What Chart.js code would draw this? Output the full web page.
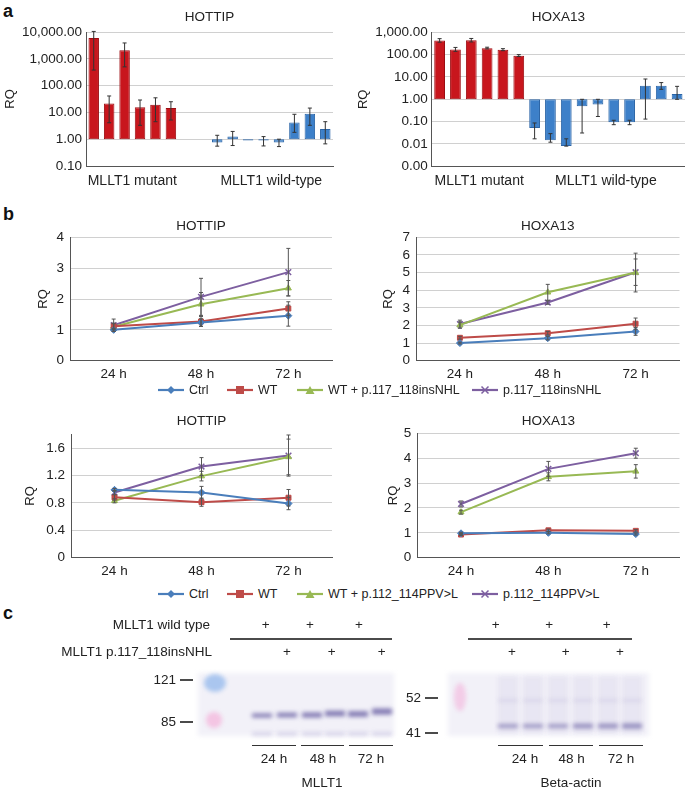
<!DOCTYPE html>
<html>
<head>
<meta charset="utf-8">
<script src="https://cdn.jsdelivr.net/npm/chart.js@4.4.1/dist/chart.umd.min.js"></script>
<style>
  body { margin: 0; background: #fff; width: 685px; height: 790px; position: relative; overflow: hidden;
         font-family: "Liberation Sans", Arial, sans-serif; color: #222; }
  canvas { position: absolute; }
  .tag { position: absolute; font-weight: bold; font-size: 18px; line-height: 18px; color: #111; }
  .leg { position: absolute; font-size: 12.5px; line-height: 14px; white-space: nowrap; }
  .leg svg { position: absolute; top: 0; }
</style>
</head>
<body>
<div class="tag" style="left:3px;top:2px">a</div>
<div class="tag" style="left:3px;top:205px">b</div>
<div class="tag" style="left:3px;top:604px">c</div>

<canvas id="aL" width="340" height="195" style="left:0;top:0"></canvas>
<canvas id="aR" width="345" height="195" style="left:340px;top:0"></canvas>
<canvas id="b1" width="340" height="188" style="left:0;top:195px"></canvas>
<canvas id="b2" width="345" height="188" style="left:340px;top:195px"></canvas>
<canvas id="b3" width="340" height="185" style="left:0;top:395px"></canvas>
<canvas id="b4" width="345" height="185" style="left:340px;top:395px"></canvas>
<div id="leg1"></div>
<div id="leg2"></div>
<canvas id="blot" width="685" height="190" style="left:0;top:600px"></canvas>

<script>
var FONT = '"Liberation Sans", Arial, sans-serif';

// ---- panel a: RQ per sample (log scale) ----
var aSamplesL = ['M1', 'M2', 'M3', 'M4', 'M5', 'M6', ' ', '  ', 'W1', 'W2', 'W3', 'W4', 'W5', 'W6', 'W7', 'W8'];
var aGroupsL = ['mut', 'mut', 'mut', 'mut', 'mut', 'mut', null, null, 'wt', 'wt', 'wt', 'wt', 'wt', 'wt', 'wt', 'wt'];
var aHottip = [6000, 21.7, 2100, 15.4, 19.4, 14.5, null, null, 0.76, 1.25, 0.9, 0.9, 0.76, 4.2, 8.9, 2.4];
var aHottipHi = [10500, 41, 3900, 29, 35, 25, null, null, 1.4, 1.95, null, 1.25, 1.0, 8.5, 14.5, 4.5];
var aHottipLo = [380, 4.1, 500, 3.3, 4.5, 5.2, null, null, 0.55, 0.58, null, 0.56, 0.53, 1.8, 3.3, 0.67];
var aTicksL = [0.1, 1, 10, 100, 1000, 10000];

var aSamplesR = ['M1', 'M2', 'M3', 'M4', 'M5', 'M6', 'W1', 'W2', 'W3', 'W4', 'W5', 'W6', 'W7', 'W8', 'W9', 'W10'];
var aGroupsR = ['mut', 'mut', 'mut', 'mut', 'mut', 'mut', 'wt', 'wt', 'wt', 'wt', 'wt', 'wt', 'wt', 'wt', 'wt', 'wt'];
var aHoxa = [430, 170, 440, 195, 165, 90, 0.052, 0.0145, 0.0082, 0.49, 0.58, 0.093, 0.093, 4.0, 4.0, 1.74];
var aHoxaHi = [520, 210, 530, 215, 185, 100, 0.087, 0.029, 0.017, 1.0, 1.0, 0.115, 0.115, 8.1, 5.6, 3.8];
var aHoxaLo = [360, 140, 370, 180, 150, 82, 0.017, 0.012, 0.008, 0.031, 0.17, 0.073, 0.073, 0.13, 2.8, 1.0];
var aTicksR = [0.001, 0.01, 0.1, 1, 10, 100, 1000];

// ---- panel b: RQ over time ----
var hours = ['24 h', '48 h', '72 h'];
var namesTop = ['Ctrl', 'WT', 'WT + p.117_118insNHL', 'p.117_118insNHL'];
var namesBot = ['Ctrl', 'WT', 'WT + p.112_114PPV>L', 'p.112_114PPV>L'];

var b1Ctrl = [1.0, 1.24, 1.46], b1CtrlErr = [0.05, 0.12, 0.34];
var b1Wt = [1.12, 1.27, 1.69], b1WtErr = [0.1, 0.16, 0.22];
var b1WtMut = [1.1, 1.83, 2.35], b1WtMutErr = [0.1, 0.38, 0.25];
var b1Mut = [1.15, 2.07, 2.87], b1MutErr = [0.2, 0.6, 0.77];

var b2Ctrl = [1.0, 1.28, 1.66], b2CtrlErr = [0.05, 0.1, 0.22];
var b2Wt = [1.3, 1.56, 2.1], b2WtErr = [0.08, 0.1, 0.32];
var b2WtMut = [2.02, 3.88, 5.0], b2WtMutErr = [0.18, 0.45, 1.1];
var b2Mut = [2.08, 3.3, 5.02], b2MutErr = [0.22, 0.1, 0.75];

var b3Ctrl = [0.99, 0.95, 0.79], b3CtrlErr = [0.02, 0.09, 0.09];
var b3Wt = [0.88, 0.81, 0.875], b3WtErr = [0.04, 0.06, 0.12];
var b3WtMut = [0.83, 1.19, 1.47], b3WtMutErr = [0.03, 0.07, 0.26];
var b3Mut = [0.95, 1.33, 1.49], b3MutErr = [0.03, 0.13, 0.3];

var b4Ctrl = [0.98, 1.0, 0.95], b4CtrlErr = [0.04, 0.04, 0.04];
var b4Wt = [0.93, 1.1, 1.08], b4WtErr = [0.04, 0.05, 0.05];
var b4WtMut = [1.83, 3.25, 3.47], b4WtMutErr = [0.08, 0.16, 0.27];
var b4Mut = [2.16, 3.57, 4.2], b4MutErr = [0.12, 0.3, 0.2];

var seriesColors = ['#4a7ebb', '#be4b48', '#98b954', '#7d5fa0'];
var seriesMarks = ['rectRot', 'rect', 'triangle', 'crossRot'];

// error bars drawn from dataset.errLo / dataset.errHi through the y scale
var errorBars = {
    id: 'errorBars',
    afterDatasetsDraw: function (chart) {
        var ctx = chart.ctx, ys = chart.scales.y;
        chart.data.datasets.forEach(function (ds, i) {
            if (!ds.errLo) return;
            var meta = chart.getDatasetMeta(i);
            ctx.save();
            ctx.strokeStyle = ds.errColor || '#333';
            ctx.lineWidth = 1;
            meta.data.forEach(function (el, j) {
                if (ds.errLo[j] == null) return;
                var x = el.x, y1 = ys.getPixelForValue(ds.errLo[j]), y2 = ys.getPixelForValue(ds.errHi[j]);
                ctx.beginPath();
                ctx.moveTo(x, y1); ctx.lineTo(x, y2);
                ctx.moveTo(x - 2, y1); ctx.lineTo(x + 2, y1);
                ctx.moveTo(x - 2, y2); ctx.lineTo(x + 2, y2);
                ctx.stroke();
            });
            ctx.restore();
        });
    }
};

// group captions under the bar charts
var groupLabels = {
    id: 'groupLabels',
    afterDraw: function (chart, args, o) {
        if (!o.groups) return;
        var ctx = chart.ctx, xs = chart.scales.x;
        ctx.save();
        ctx.font = '14px ' + FONT;
        ctx.fillStyle = '#222';
        ctx.textAlign = 'center';
        ctx.textBaseline = 'middle';
        o.groups.forEach(function (g) {
            var cx = (xs.getPixelForValue(g.from) + xs.getPixelForValue(g.to)) / 2;
            ctx.fillText(g.text, cx, chart.chartArea.bottom + o.dy);
        });
        ctx.restore();
    }
};

function baseOptions(f, title) {
    var padL = f.rqX - 2 - 7.8;
    return {
        responsive: false,
        animation: false,
        layout: { padding: { left: padL, right: f.W - f.R, top: 0, bottom: 0 } },
        plugins: {
            legend: { display: false },
            tooltip: { enabled: false },
            title: {
                display: true, text: title, fullSize: false, color: '#222',
                font: { family: FONT, size: 13.5, weight: 'normal', lineHeight: 1.2 },
                padding: { top: f.ty - 8.1, bottom: f.T - f.ty - 8.1 }
            }
        },
        scales: {
            x: {
                afterFit: function (s) { s.height = f.H - f.B; },
                grid: { display: false, drawTicks: false },
                border: { color: '#555' },
                ticks: { color: '#222', font: { family: FONT, size: 13.5 }, padding: 5 }
            },
            y: {
                afterFit: function (s) { s.width = f.L - padL; },
                grid: { color: '#d0d0d0', drawTicks: false },
                border: { color: '#555' },
                title: { display: true, text: 'RQ', color: '#222', font: { family: FONT, size: 13 }, padding: { top: 2, bottom: 0 } },
                ticks: { color: '#222', font: { family: FONT, size: 13.5 }, padding: 5, autoSkip: false }
            }
        }
    };
}

function fmt2(v) {
    return Number(v).toLocaleString('en-US', { minimumFractionDigits: 2, maximumFractionDigits: 2 });
}

function barChart(id, f, title, labels, groups, vals, hi, lo, ticks, captions) {
    var opts = baseOptions(f, title);
    opts.scales.x.ticks.display = false;
    opts.scales.y.type = 'logarithmic';
    opts.scales.y.min = ticks[0];
    opts.scales.y.max = ticks[ticks.length - 1];
    opts.scales.y.afterBuildTicks = function (s) { s.ticks = ticks.map(function (v) { return { value: v }; }); };
    opts.scales.y.ticks.callback = function (v) { return fmt2(v); };
    opts.scales.y.ticks.padding = 4;
    opts.plugins.groupLabels = { groups: captions, dy: 15 };
    new Chart(document.getElementById(id), {
        type: 'bar',
        data: {
            labels: labels,
            datasets: [{
                data: vals.map(function (v) { return v == null ? null : [1, v]; }),
                backgroundColor: groups.map(function (g) { return g === 'mut' ? '#c8161d' : '#3d80c9'; }),
                borderColor: groups.map(function (g) { return g === 'mut' ? '#9c0d12' : '#2a64a6'; }),
                borderWidth: 1,
                borderSkipped: false,
                categoryPercentage: 1,
                barPercentage: 0.68,
                errLo: lo, errHi: hi, errColor: '#333'
            }]
        },
        options: opts,
        plugins: [errorBars, groupLabels]
    });
}

function lineChart(id, f, title, names, series, errs, yMax, yTicks, dec) {
    var opts = baseOptions(f, title);
    opts.scales.x.offset = true;
    opts.scales.y.min = 0;
    opts.scales.y.max = yMax;
    opts.scales.y.afterBuildTicks = function (s) { s.ticks = yTicks.map(function (v) { return { value: v }; }); };
    opts.scales.y.ticks.callback = function (v) { return v === 0 ? '0' : v.toFixed(dec); };
    opts.scales.y.ticks.padding = 6;
    new Chart(document.getElementById(id), {
        type: 'line',
        data: {
            labels: hours,
            datasets: series.map(function (s, i) {
                return {
                    label: names[i],
                    data: s,
                    borderColor: seriesColors[i],
                    backgroundColor: seriesColors[i],
                    borderWidth: 2,
                    pointStyle: seriesMarks[i],
                    pointRadius: i === 3 ? 4 : 3.5,
                    pointBorderWidth: i === 3 ? 1.5 : 1,
                    errLo: s.map(function (v, j) { return v - errs[i][j]; }),
                    errHi: s.map(function (v, j) { return v + errs[i][j]; }),
                    errColor: '#555'
                };
            })
        },
        options: opts,
        plugins: [errorBars]
    });
}

barChart('aL', { W: 340, H: 195, L: 86, R: 333, T: 32, B: 166, rqX: 10, ty: 17 }, 'HOTTIP',
    aSamplesL, aGroupsL, aHottip, aHottipHi, aHottipLo, aTicksL,
    [{ text: 'MLLT1 mutant', from: 0, to: 5 }, { text: 'MLLT1 wild-type', from: 8, to: 15 }]);
barChart('aR', { W: 345, H: 195, L: 91.7, R: 345, T: 32.3, B: 166.3, rqX: 23.3, ty: 17 }, 'HOXA13',
    aSamplesR, aGroupsR, aHoxa, aHoxaHi, aHoxaLo, aTicksR,
    [{ text: 'MLLT1 mutant', from: 0, to: 5 }, { text: 'MLLT1 wild-type', from: 6, to: 15 }]);

lineChart('b1', { W: 340, H: 188, L: 70, R: 332, T: 42.3, B: 165.7, rqX: 43, ty: 31.7 }, 'HOTTIP', namesTop,
    [b1Ctrl, b1Wt, b1WtMut, b1Mut], [b1CtrlErr, b1WtErr, b1WtMutErr, b1MutErr], 4, [0, 1, 2, 3, 4], 0);
lineChart('b2', { W: 345, H: 188, L: 76, R: 343, T: 42.3, B: 165.7, rqX: 48.3, ty: 31 }, 'HOXA13', namesTop,
    [b2Ctrl, b2Wt, b2WtMut, b2Mut], [b2CtrlErr, b2WtErr, b2WtMutErr, b2MutErr], 7, [0, 1, 2, 3, 4, 5, 6, 7], 0);
lineChart('b3', { W: 340, H: 185, L: 71, R: 332, T: 39.3, B: 162.7, rqX: 30, ty: 26.7 }, 'HOTTIP', namesBot,
    [b3Ctrl, b3Wt, b3WtMut, b3Mut], [b3CtrlErr, b3WtErr, b3WtMutErr, b3MutErr], 1.8, [0, 0.4, 0.8, 1.2, 1.6], 1);
lineChart('b4', { W: 345, H: 185, L: 77.3, R: 345, T: 38.3, B: 162.7, rqX: 53.3, ty: 26.7 }, 'HOXA13', namesBot,
    [b4Ctrl, b4Wt, b4WtMut, b4Mut], [b4CtrlErr, b4WtErr, b4WtMutErr, b4MutErr], 5, [0, 1, 2, 3, 4, 5], 0);

// shared legends for panel b
function markSvg(i) {
    var c = seriesColors[i], m = '';
    if (i === 0) m = '<polygon points="13,1 17,5 13,9 9,5" fill="' + c + '"/>';
    if (i === 1) m = '<rect x="9" y="1" width="8" height="8" fill="' + c + '"/>';
    if (i === 2) m = '<polygon points="13,1 17.5,9 8.5,9" fill="' + c + '"/>';
    if (i === 3) m = '<path d="M9.5 1.5 L16.5 8.5 M16.5 1.5 L9.5 8.5" stroke="' + c + '" stroke-width="1.5"/>';
    return '<svg width="26" height="10" style="left:0;top:2px"><line x1="0" y1="5" x2="26" y2="5" stroke="' + c +
        '" stroke-width="2.2"/>' + m + '</svg>';
}
function legend(id, top, names) {
    var xs = [158, 227, 297, 472];
    var el = document.getElementById(id), html = '';
    names.forEach(function (n, i) {
        html += '<div class="leg" style="left:' + xs[i] + 'px;top:' + top + 'px">' + markSvg(i) +
            '<span style="margin-left:31px"></span></div>';
    });
    el.innerHTML = html;
    el.querySelectorAll('span').forEach(function (s, i) { s.textContent = names[i]; });
}
legend('leg1', 383, namesTop);
legend('leg2', 587, namesBot);

// ---- panel c: western blot sketch ----
(function () {
    var c = document.getElementById('blot'), ctx = c.getContext('2d');
    var o = 600;
    ctx.fillStyle = '#222';
    ctx.font = '13.5px ' + FONT;
    ctx.textBaseline = 'middle';
    ctx.textAlign = 'right';
    ctx.fillText('MLLT1 wild type', 210, 625 - o);
    ctx.fillText('MLLT1 p.117_118insNHL', 212, 652 - o);
    ctx.textAlign = 'center';
    [265.7, 310, 359, 495.7, 549.3, 606.7].forEach(function (x) { ctx.fillText('+', x, 625 - o); });
    [287, 331.7, 381.7, 512, 565.7, 620].forEach(function (x) { ctx.fillText('+', x, 652 - o); });
    ctx.strokeStyle = '#111';
    ctx.lineWidth = 1.6;
    ctx.beginPath();
    ctx.moveTo(230, 639 - o); ctx.lineTo(392, 639 - o);
    ctx.moveTo(468, 639 - o); ctx.lineTo(632, 639 - o);
    ctx.stroke();

    // membranes
    ctx.save();
    ctx.filter = 'blur(2px)';
    ctx.fillStyle = '#f2f1f8';
    ctx.fillRect(198, 673 - o, 196, 63);
    ctx.fillRect(448, 673 - o, 201, 63);
    ctx.fillStyle = 'rgba(140,180,235,0.7)';
    ctx.beginPath(); ctx.ellipse(215, 683 - o, 11, 9, 0, 0, Math.PI * 2); ctx.fill();
    ctx.fillStyle = 'rgba(245,160,210,0.55)';
    ctx.beginPath(); ctx.ellipse(214, 720 - o, 8, 8, 0, 0, Math.PI * 2); ctx.fill();
    ctx.fillStyle = 'rgba(245,160,210,0.45)';
    ctx.beginPath(); ctx.ellipse(460, 697 - o, 6, 14, 0, 0, Math.PI * 2); ctx.fill();
    // lane shading
    ctx.fillStyle = 'rgba(205,200,228,0.25)';
    [498, 523, 548, 573, 598, 622].forEach(function (x) { ctx.fillRect(x, 676 - o, 20, 58); });
    // MLLT1 bands
    var lanesL = [252, 277, 302, 325, 348, 372], bandYL = [715.5, 715, 715, 713.5, 714, 711.5], bandHL = [4, 4.5, 5, 5.5, 5.5, 6];
    lanesL.forEach(function (x, i) {
        ctx.fillStyle = 'rgba(100,90,160,0.8)';
        ctx.fillRect(x, bandYL[i] - o - bandHL[i] / 2, 20, bandHL[i]);
        ctx.fillStyle = 'rgba(150,140,195,0.3)';
        ctx.fillRect(x, 732 - o, 20, 4);
    });
    // beta-actin bands
    var lanesR = [498, 523, 548, 573, 598, 622], bandHR = [3.5, 3.5, 3.5, 4.5, 4.5, 5];
    lanesR.forEach(function (x, i) {
        ctx.fillStyle = 'rgba(100,90,160,0.65)';
        ctx.fillRect(x, 726 - o - bandHR[i] / 2, 20, bandHR[i]);
        ctx.fillStyle = 'rgba(160,150,200,0.22)';
        ctx.fillRect(x, 699 - o, 20, 3);
    });
    ctx.restore();

    // size markers
    ctx.fillStyle = '#222';
    ctx.textAlign = 'right';
    ctx.fillText('121', 176, 680 - o);
    ctx.fillText('85', 176, 722 - o);
    ctx.fillText('52', 421, 698 - o);
    ctx.fillText('41', 421, 733 - o);
    ctx.lineWidth = 1.3;
    ctx.beginPath();
    ctx.moveTo(180, 680 - o); ctx.lineTo(193, 680 - o);
    ctx.moveTo(180, 722 - o); ctx.lineTo(193, 722 - o);
    ctx.moveTo(425, 698 - o); ctx.lineTo(438, 698 - o);
    ctx.moveTo(425, 733 - o); ctx.lineTo(438, 733 - o);
    ctx.stroke();

    // time brackets
    ctx.strokeStyle = '#333';
    ctx.lineWidth = 1;
    ctx.beginPath();
    [[252, 296], [301, 344], [349, 393], [498, 543], [549, 593], [599, 643]].forEach(function (s) {
        ctx.moveTo(s[0], 745.5 - o); ctx.lineTo(s[1], 745.5 - o);
    });
    ctx.stroke();
    ctx.textAlign = 'center';
    ctx.fillText('24 h', 274, 759 - o);
    ctx.fillText('48 h', 323, 759 - o);
    ctx.fillText('72 h', 371, 759 - o);
    ctx.fillText('24 h', 525, 759 - o);
    ctx.fillText('48 h', 571.7, 759 - o);
    ctx.fillText('72 h', 621, 759 - o);
    ctx.fillText('MLLT1', 322, 783 - o);
    ctx.fillText('Beta-actin', 571, 783 - o);
})();
</script>
</body>
</html>
